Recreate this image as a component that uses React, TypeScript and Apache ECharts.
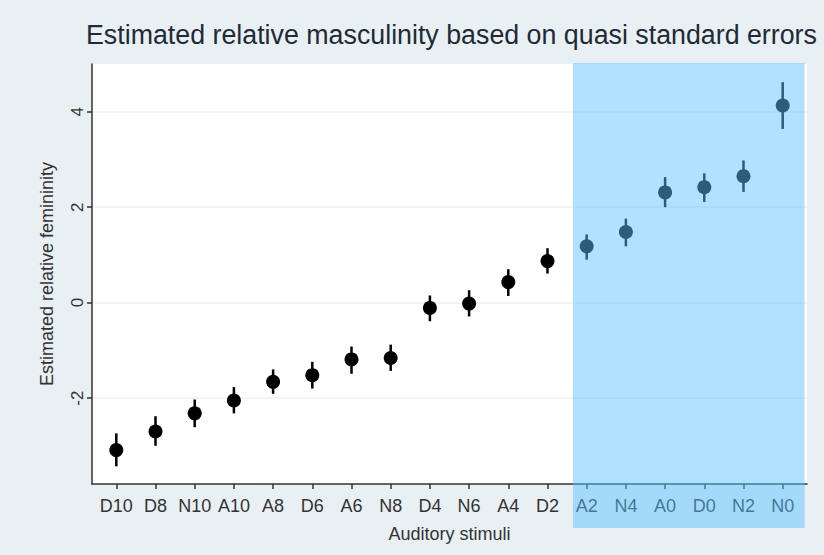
import React, { useEffect, useRef } from "react";
import * as echarts from "echarts";

const categories = ["D10", "D8", "N10", "A10", "A8", "D6", "A6", "N8", "D4", "N6", "A4", "D2", "A2", "N4", "A0", "D0", "N2", "N0"];
const estimates = [-3.09, -2.7, -2.32, -2.05, -1.66, -1.52, -1.19, -1.16, -0.11, -0.02, 0.43, 0.87, 1.18, 1.48, 2.31, 2.42, 2.65, 4.13];
const lower = [-3.43, -3.0, -2.61, -2.32, -1.91, -1.8, -1.49, -1.43, -0.39, -0.29, 0.14, 0.61, 0.9, 1.18, 2.0, 2.11, 2.32, 3.64];
const upper = [-2.74, -2.38, -2.03, -1.77, -1.4, -1.24, -0.92, -0.88, 0.15, 0.26, 0.7, 1.14, 1.43, 1.76, 2.63, 2.71, 2.98, 4.62];
const yTicks = [-2, 0, 2, 4];
const shadedFrom = 11.65;
const shadedTo = 17.56;

const TITLE = "Estimated relative masculinity based on quasi standard errors";
const FONT = "Liberation Sans, Arial, sans-serif";
const TITLE_SIZE = 28;

export default function App() {
  const ref = useRef<HTMLDivElement>(null);
  useEffect(() => {
    document.body.style.margin = "0";
    if (!ref.current) return;
    const chart = echarts.init(ref.current, null, { renderer: "svg" });

    const cv = document.createElement("canvas");
    const ctx = cv.getContext("2d")!;
    ctx.font = TITLE_SIZE + "px " + FONT;
    const tw = ctx.measureText(TITLE).width;
    const titleScale = 731 / tw;

    const titleGraphic = {
      type: "text",
      left: 86,
      top: 20,
      scaleX: titleScale,
      style: { text: TITLE, font: TITLE_SIZE + "px " + FONT, fill: "#1f2a37" },
    };

    const xIdx = categories.map((_, i) => i);
    chart.setOption({
      animation: false,
      backgroundColor: "#e9f0f3",
      grid: { left: 92, right: 17, top: 64, bottom: 71, show: true, backgroundColor: "#ffffff", borderWidth: 0 },
      xAxis: {
        type: "value",
        min: -0.62,
        max: 17.62,
        name: "Auditory stimuli",
        nameLocation: "middle",
        nameGap: 41,
        nameTextStyle: { fontFamily: FONT, fontSize: 18, color: "#333" },
        axisLine: { show: true, onZero: false, lineStyle: { color: "#333", width: 1.5 } },
        axisTick: { show: true, customValues: xIdx, length: 5, lineStyle: { color: "#333", width: 1.5 } },
        axisLabel: {
          customValues: xIdx,
          formatter: (v: number) => categories[Math.round(v)] ?? "",
          fontFamily: FONT,
          fontSize: 18,
          color: "#333",
          margin: 13,
        },
        splitLine: { show: false },
      },
      yAxis: {
        type: "value",
        min: -3.8,
        max: 5.0,
        name: "Estimated relative femininity",
        nameLocation: "middle",
        nameGap: 36,
        nameTextStyle: { fontFamily: FONT, fontSize: 18, color: "#333" },
        axisLine: { show: true, onZero: false, lineStyle: { color: "#333", width: 1.5 } },
        axisTick: { show: true, customValues: yTicks, length: 5, lineStyle: { color: "#333", width: 1.5 } },
        axisLabel: {
          customValues: yTicks,
          rotate: 90,
          fontFamily: FONT,
          fontSize: 17,
          color: "#333",
          margin: 6,
        },
        splitLine: { show: true, lineStyle: { color: "#eef1f2", width: 1.5 } },
      },
      graphic: [titleGraphic],
      series: [
        {
          type: "custom",
          data: categories.map((_, i) => [i, lower[i], upper[i]]),
          renderItem: (params: any, api: any) => {
            const p1 = api.coord([api.value(0), api.value(1)]);
            const p2 = api.coord([api.value(0), api.value(2)]);
            return {
              type: "line",
              shape: { x1: p1[0], y1: p1[1], x2: p2[0], y2: p2[1] },
              style: { stroke: "#000", lineWidth: 2.5 },
            };
          },
          z: 2,
        },
        {
          type: "scatter",
          data: categories.map((_, i) => [i, estimates[i]]),
          symbol: "circle",
          symbolSize: 14,
          itemStyle: { color: "#000", opacity: 1 },
          z: 3,
        },
      ],
    });

    const a = chart.convertToPixel({ gridIndex: 0 }, [shadedFrom, 5.0]) as number[];
    const b = chart.convertToPixel({ gridIndex: 0 }, [shadedTo, 5.0]) as number[];
    chart.setOption({
      graphic: [
        titleGraphic,
        {
          type: "rect",
          z: 100,
          shape: { x: a[0], y: a[1] - 1, width: b[0] - a[0], height: 528 - (a[1] - 1) },
          style: { fill: "rgba(87,194,255,0.48)" },
          silent: true,
        },
      ],
    });

    return () => chart.dispose();
  }, []);
  return <div ref={ref} style={{ width: 824, height: 555 }} />;
}
